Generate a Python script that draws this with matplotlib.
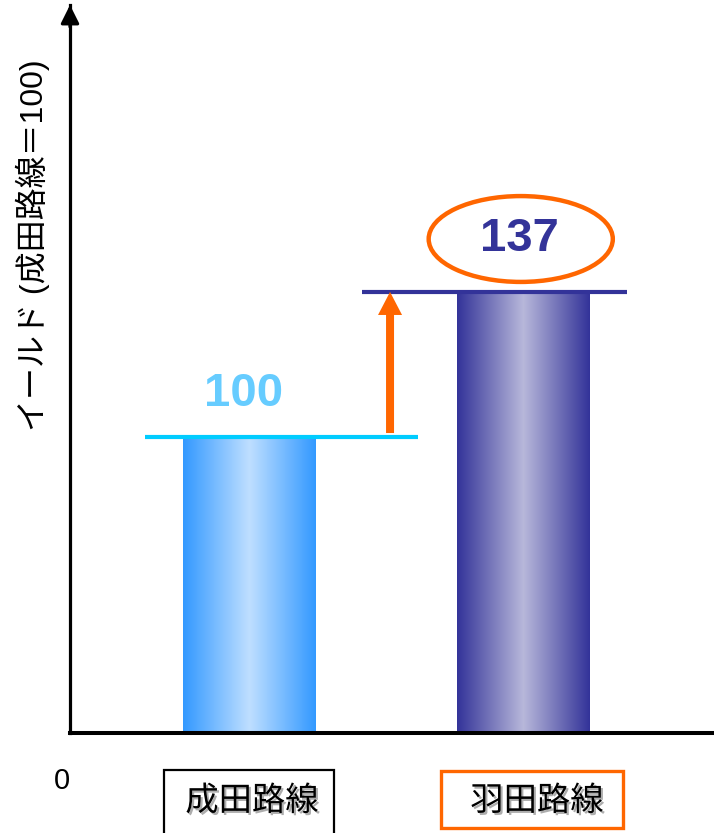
import matplotlib.pyplot as plt
import matplotlib.patches as mpatches
import matplotlib.patheffects as pe
from matplotlib.colors import LinearSegmentedColormap
import numpy as np

plt.rcParams['font.family'] = ['Liberation Sans', 'Noto Sans CJK JP', 'DejaVu Sans']

routes = ['成田路線', '羽田路線']
yields = [100, 137]
value_text = ['100', '137']
ylabel = 'イールド (成田路線＝100)'

edge_cols = ['#3399ff', '#333399']
mid_cols = ['#bfdfff', '#b8b8da']
line_cols = ['#00ccff', '#333399']
text_cols = ['#66ccff', '#333399']
box_cols = ['black', '#ff6600']
orange = '#ff6600'

W, H = 714, 833
fig = plt.figure(figsize=(W / 100, H / 100), dpi=100)
ax = fig.add_axes([70 / W, 100 / H, 642 / W, 728 / H])

x = np.arange(len(routes))
bars = ax.bar(x, yields, width=0.485, color='none', zorder=2)

# gradient fill for each bar
for b, c0, c1 in zip(bars, edge_cols, mid_cols):
    cmap = LinearSegmentedColormap.from_list('g', [c0, c1, c0])
    grad = np.linspace(0, 1, 256).reshape(1, -1)
    x0, w = b.get_x(), b.get_width()
    ax.imshow(grad, cmap=cmap, aspect='auto', interpolation='bicubic',
              extent=[x0, x0 + w, 0, b.get_height()], zorder=2)

ax.set_xlim(-0.655, 1.688)
ax.set_ylim(24.47, 210.2)

# level lines above each bar
ax.hlines(yields[0], -0.381, 0.615, color=line_cols[0], lw=3, zorder=3)
ax.hlines(yields[1], 0.411, 1.378, color=line_cols[1], lw=3, zorder=3)

# increase arrow
arr = mpatches.FancyArrowPatch((0.513, 101), (0.513, yields[1]),
                               arrowstyle='simple,head_length=1.66,head_width=1.73,tail_width=0.576',
                               mutation_scale=10, color=orange, lw=0,
                               shrinkA=0, shrinkB=0, zorder=4)
ax.add_patch(arr)

# value labels
ax.annotate(value_text[0], xy=(-0.02, yields[0]), xytext=(0, 31), textcoords='offset points',
            ha='center', va='center', fontsize=34, fontweight='bold', color=text_cols[0])
ax.annotate(value_text[1], xy=(0.985, yields[1]), xytext=(0, 38), textcoords='offset points',
            ha='center', va='center', fontsize=34, fontweight='bold', color=text_cols[1])
ax.add_patch(mpatches.Ellipse((0.99, 150.5), 0.672, 21.9, fill=False,
                              ec=orange, lw=3.2, zorder=4, clip_on=False))

# axes: left and bottom only, arrow on the y axis
for s in ['top', 'right']:
    ax.spines[s].set_visible(False)
ax.spines['left'].set_linewidth(2.3)
ax.spines['bottom'].set_linewidth(2.9)
ax.set_xticks([])
ax.set_yticks([])
ax.annotate('', xy=(0, 1), xytext=(0, 0.97), xycoords='axes fraction',
            arrowprops=dict(arrowstyle='-|>,head_length=1.1,head_width=0.55',
                            lw=2.3, color='black', shrinkA=0, shrinkB=0))

fig.text(33 / W, 1 - 245 / H, ylabel, rotation=90, ha='center', va='center', fontsize=23)
fig.text(62 / W, 1 - 781 / H, '0', ha='center', va='center', fontsize=21)

# category boxes below the axis
boxes = [(164, 770, 170, 80), (441, 771, 182, 57)]
centers = [252, 537]
shadow = [pe.SimplePatchShadow(offset=(1.5, -1.5), shadow_rgbFace='0.6', alpha=0.8), pe.Normal()]
for (bx, by, bw, bh), cx, lab, ec, lw in zip(boxes, centers, routes, box_cols, [1.6, 2.4]):
    fig.add_artist(mpatches.Rectangle((bx / W, 1 - (by + bh) / H), bw / W, bh / H,
                                      transform=fig.transFigure, fill=False, ec=ec, lw=lw))
    fig.text(cx / W, 1 - 801 / H, lab, ha='center', va='center', fontsize=24,
             family=['Noto Sans CJK JP'], path_effects=shadow)

fig.savefig('out.png', dpi=100)
